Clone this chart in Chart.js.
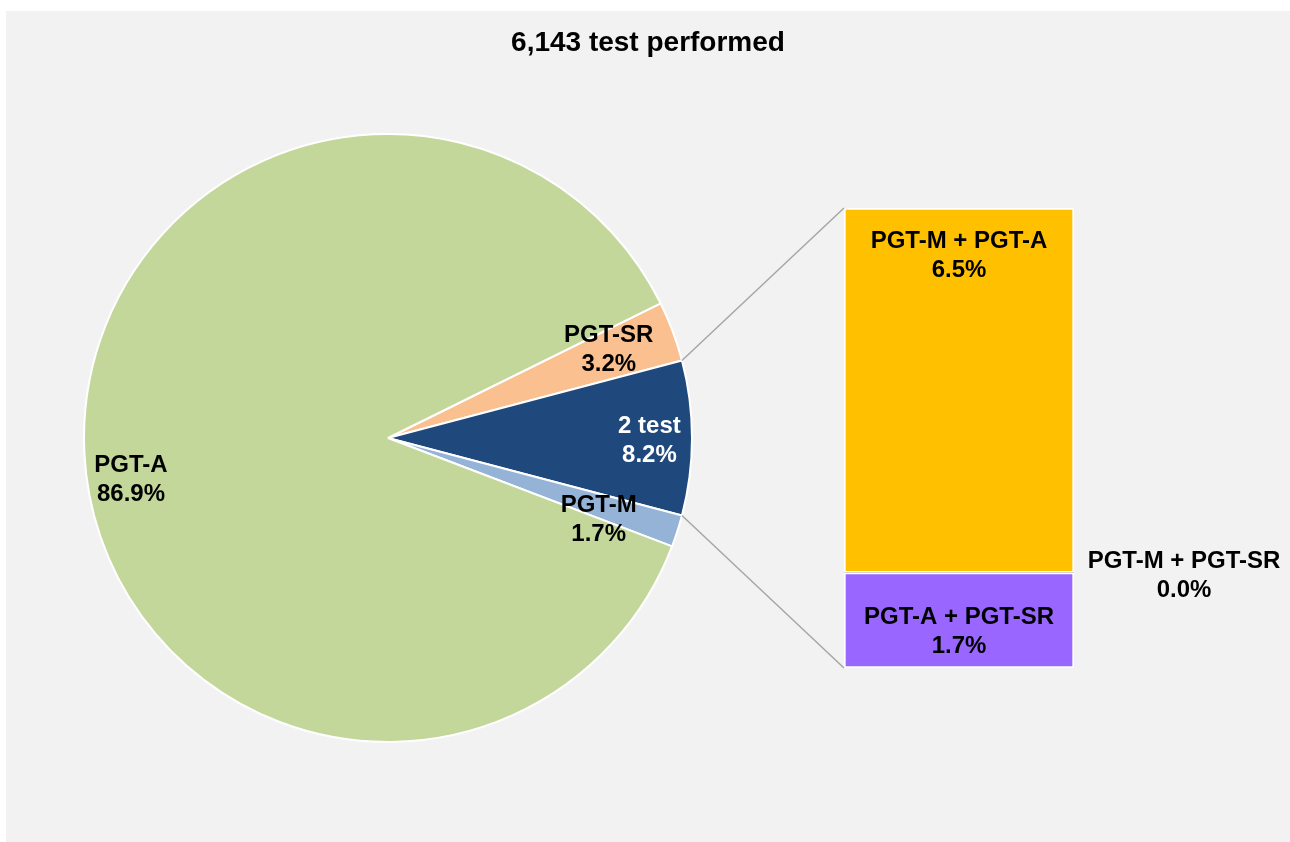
<!doctype html>
<html lang="en">
<head>
  <meta charset="utf-8" />
  <title>6,143 test performed</title>
  <script src="https://cdn.jsdelivr.net/npm/chart.js@4"></script>
  <style>
    body { margin: 0; background: #fff; }
    .panel { position: absolute; left: 6px; top: 11px; width: 1284px; height: 831px; background: #f2f2f2; }
    canvas { position: absolute; }
    #pie { left: 68px; top: 118px; }
    #bar { left: 844px; top: 208px; }
    #overlay { left: 0; top: 0; pointer-events: none; }
  </style>
</head>
<body>
  <div class="panel"></div>
  <canvas id="pie" width="640" height="640"></canvas>
  <canvas id="bar" width="230" height="460"></canvas>
  <canvas id="overlay" width="1290" height="842"></canvas>

  <script>
    // chart data
    const chartTitle = '6,143 test performed';

    // pie slices, clockwise starting just above the "2 test" slice
    const pieLabels = ['PGT-SR', '2 test', 'PGT-M', 'PGT-A'];
    const pieValues = [3.2, 8.2, 1.7, 86.9];
    const pieColors = ['#fac090', '#1f497d', '#95b3d7', '#c4d79b'];
    const pieTextColors = ['#000', '#fff', '#000', '#000'];
    const splitIndex = 1; // slice broken out into the bar

    // bar segments, bottom to top
    const barLabels = ['PGT-A + PGT-SR', 'PGT-M + PGT-SR', 'PGT-M + PGT-A'];
    const barValues = [1.7, 0.0, 6.5];
    const barColors = ['#9966ff', '#7f7f7f', '#ffc000'];

    // label placement: [radius fraction, angle shift in degrees]
    const pieLabelPlace = [[0.785, -1.8], [0.86, 0], [0.74, 2.7], [0.855, -5.9]];

    const FONT = "'Liberation Sans', Arial, sans-serif";
    const fmt = v => v.toFixed(1) + '%';

    const pieTotal = pieValues.reduce((a, b) => a + b, 0);
    const barTotal = barValues.reduce((a, b) => a + b, 0);
    // turn the pie so the split slice faces the bar
    let before = 0;
    for (let i = 0; i < splitIndex; i++) before += pieValues[i];
    const pieRotation = 90 - (before + pieValues[splitIndex] / 2) / pieTotal * 360;

    const pieChart = new Chart(document.getElementById('pie'), {
      type: 'pie',
      data: {
        labels: pieLabels,
        datasets: [{
          data: pieValues,
          backgroundColor: pieColors,
          borderColor: '#fff',
          borderWidth: 2
        }]
      },
      options: {
        responsive: false,
        animation: false,
        radius: 304,
        rotation: pieRotation,
        plugins: { legend: { display: false }, tooltip: { enabled: false } }
      }
    });

    const barChart = new Chart(document.getElementById('bar'), {
      type: 'bar',
      data: {
        labels: [''],
        datasets: barLabels.map((lab, i) => ({
          label: lab,
          data: [barValues[i]],
          backgroundColor: barColors[i],
          borderColor: '#fff',
          borderWidth: barValues[i] > 0 ? 2 : 0,
          borderSkipped: false,
          categoryPercentage: 1,
          barPercentage: 1
        }))
      },
      options: {
        responsive: false,
        animation: false,
        plugins: { legend: { display: false }, tooltip: { enabled: false } },
        scales: {
          x: { display: false, stacked: true },
          y: { display: false, stacked: true, min: 0, max: barTotal }
        }
      }
    });

    // overlay: title, connector lines, data labels
    const ctx = document.getElementById('overlay').getContext('2d');
    const pieEl = document.getElementById('pie');
    const barEl = document.getElementById('bar');
    const px = pieEl.offsetLeft, py = pieEl.offsetTop;
    const bx = barEl.offsetLeft, by = barEl.offsetTop;

    function drawLines(lines, cx, cy, color) {
      ctx.font = 'bold 24px ' + FONT;
      ctx.fillStyle = color;
      ctx.textAlign = 'center';
      ctx.textBaseline = 'middle';
      const lh = 29;
      lines.forEach((t, i) => {
        ctx.fillText(t, cx, cy + 3 + (i - (lines.length - 1) / 2) * lh);
      });
    }

    // title
    ctx.font = 'bold 28px ' + FONT;
    ctx.fillStyle = '#000';
    ctx.textAlign = 'center';
    ctx.textBaseline = 'middle';
    ctx.fillText(chartTitle, 648, 43);

    // connectors from the split slice to the bar
    const arcs = pieChart.getDatasetMeta(0).data;
    const split = arcs[splitIndex];
    const topSeg = barChart.getDatasetMeta(barValues.length - 1).data[0];
    const botSeg = barChart.getDatasetMeta(0).data[0];
    const barLeft = bx + topSeg.x - topSeg.width / 2;
    const barRight = bx + topSeg.x + topSeg.width / 2;
    ctx.strokeStyle = '#a6a6a6';
    ctx.lineWidth = 1.5;
    ctx.beginPath();
    ctx.moveTo(px + split.x + Math.cos(split.startAngle) * split.outerRadius,
               py + split.y + Math.sin(split.startAngle) * split.outerRadius);
    ctx.lineTo(barLeft, by + topSeg.y);
    ctx.moveTo(px + split.x + Math.cos(split.endAngle) * split.outerRadius,
               py + split.y + Math.sin(split.endAngle) * split.outerRadius);
    ctx.lineTo(barLeft, by + botSeg.base);
    ctx.stroke();

    // pie labels
    arcs.forEach((a, i) => {
      const [f, shift] = pieLabelPlace[i];
      const ang = (a.startAngle + a.endAngle) / 2 + shift * Math.PI / 180;
      const r = a.outerRadius * f;
      drawLines([pieLabels[i], fmt(pieValues[i] / pieTotal * 100)],
        px + a.x + Math.cos(ang) * r, py + a.y + Math.sin(ang) * r, pieTextColors[i]);
    });

    // bar labels
    barLabels.forEach((lab, i) => {
      const seg = barChart.getDatasetMeta(i).data[0];
      const txt = [lab, fmt(barValues[i])];
      if (barValues[i] === 0) {
        drawLines(txt, barRight + 110, by + seg.y, '#000');
      } else if (i === barLabels.length - 1) {
        drawLines(txt, bx + seg.x, by + seg.y + 45, '#000');
      } else {
        drawLines(txt, bx + seg.x, by + (seg.y + seg.base) / 2 + 9, '#000');
      }
    });
  </script>
</body>
</html>
